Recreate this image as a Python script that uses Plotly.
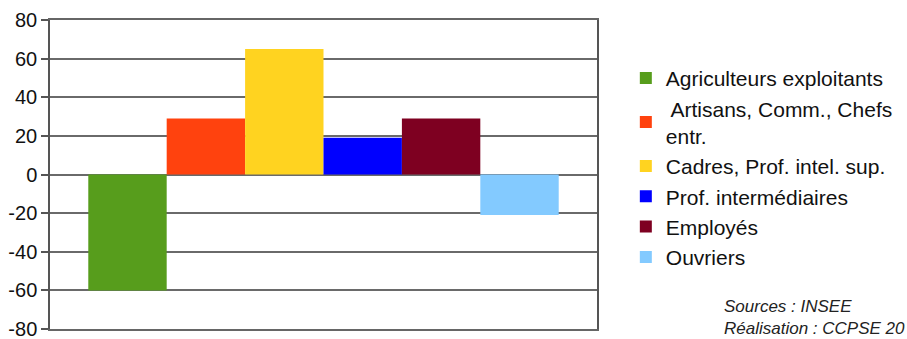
import plotly.graph_objects as go

categories = ["Agriculteurs exploitants", " Artisans, Comm., Chefs<br>entr.",
              "Cadres, Prof. intel. sup.", "Prof. intermédiaires", "Employés", "Ouvriers"]
values = [-60, 29, 65, 19, 29, -21]
colors = ["#579d1c", "#ff420e", "#ffd320", "#0000ff", "#7e0021", "#83caff"]
y_ticks = [80, 60, 40, 20, 0, -20, -40, -60, -80]

fig = go.Figure()
for name, v, c in zip(categories, values, colors):
    fig.add_trace(go.Bar(x=[""], y=[v], name=name,
                         marker=dict(color=c, line=dict(width=0))))

fig.update_layout(
    width=907, height=339,
    margin=dict(l=50, r=310, t=20, b=10, autoexpand=False),
    plot_bgcolor="white", paper_bgcolor="white",
    barmode="group", bargap=0.14, bargroupgap=0,
    font=dict(family="Liberation Sans, Arial, sans-serif", size=17, color="#111"),
    showlegend=True,
    legend=dict(xref="container", yref="container", x=0.690, y=0.829, xanchor="left", yanchor="top",
                font=dict(size=21), bgcolor="rgba(0,0,0,0)", itemwidth=30,
                maxheight=330),
    xaxis=dict(showticklabels=False, showgrid=False, zeroline=False, showline=True,
               linecolor="#666", linewidth=1.5, mirror=True, range=[-0.5, 0.5]),
    yaxis=dict(range=[-80, 80], tickvals=y_ticks, ticktext=[str(t) for t in y_ticks],
               showgrid=True, gridcolor="#6a6a6a", gridwidth=1.5,
               zeroline=True, zerolinecolor="#6a6a6a", zerolinewidth=1.5,
               showline=True, linecolor="#555", linewidth=1.5, mirror=True,
               ticks="outside", ticklen=7, tickcolor="#555", tickwidth=1.5,
               tickfont=dict(size=20), ticklabeloverflow="allow"),
    annotations=[
        dict(text="<i>Sources : INSEE<br>Réalisation : CCPSE 20</i>", xref="paper", yref="paper",
             x=1.228, y=-0.035, xanchor="left", yanchor="bottom", align="left", showarrow=False,
             font=dict(size=17, color="#222")),
    ],
)
fig.write_html("out.html")
